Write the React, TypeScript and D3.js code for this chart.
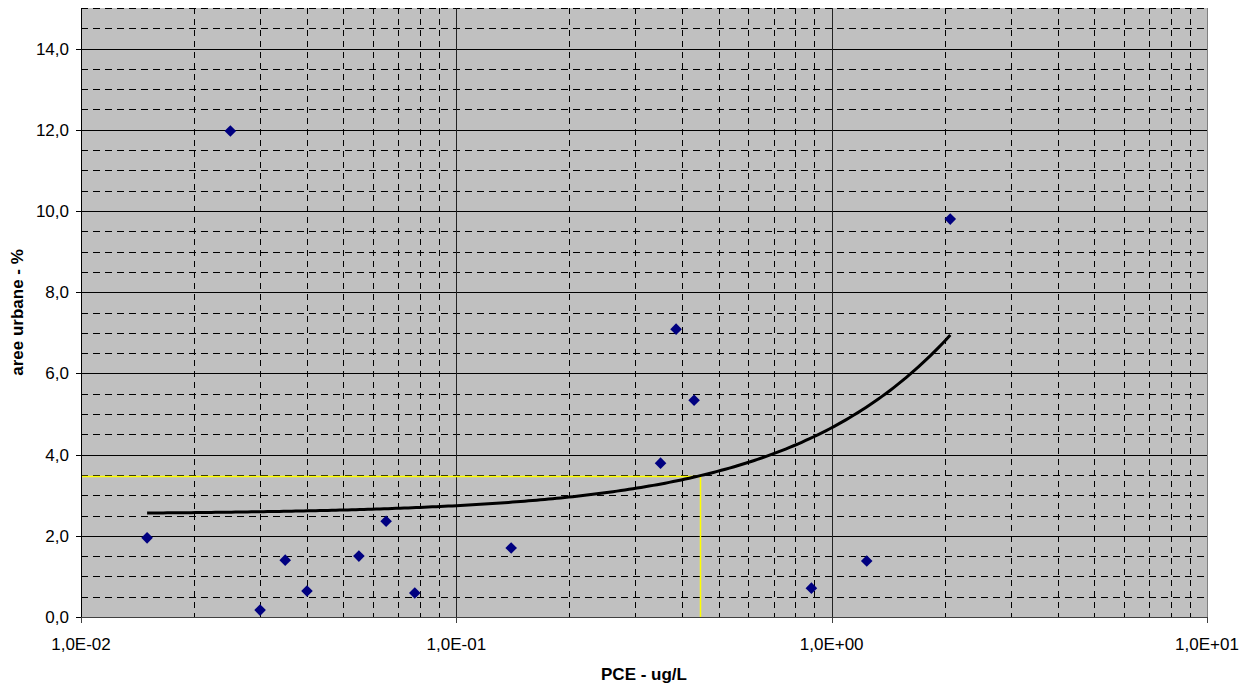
import React, { useEffect } from "react";
import * as d3 from "d3";

const pceValues = [0.015, 0.025, 0.03, 0.035, 0.04, 0.055, 0.065, 0.0775, 0.14, 0.35, 0.385, 0.43, 0.883, 1.24, 2.07];
const urbanValues = [1.95, 11.97, 0.17, 1.4, 0.64, 1.5, 2.36, 0.59, 1.7, 3.79, 7.09, 5.34, 0.71, 1.38, 9.8];
const xDecadeTicks = [0.01, 0.1, 1, 10];
const xTickLabels = ["1,0E-02", "1,0E-01", "1,0E+00", "1,0E+01"];
const yTicks = [0, 2, 4, 6, 8, 10, 12, 14];
const yTickLabels = ["0,0", "2,0", "4,0", "6,0", "8,0", "10,0", "12,0", "14,0"];
const thresholdY = [3.48];
const thresholdX = [0.445];
const xTitle = "PCE - ug/L";
const yTitle = "aree urbane - %";

const W = 1252, H = 688;
const L = 81, R = 1207, T = 8, B = 617;
const FONT = "'Liberation Sans', Arial, sans-serif";

export default function App() {
  useEffect(() => {
    document.body.style.margin = "0";
  }, []);

  const x = d3.scaleLog().domain([0.01, 10]).range([L, R]);
  const y = d3.scaleLinear().domain([0, 15]).range([B, T]);

  // Linear trendline (least squares, as in the spreadsheet)
  const n = pceValues.length;
  const mx = d3.mean(pceValues)!;
  const my = d3.mean(urbanValues)!;
  let sxy = 0, sxx = 0;
  for (let i = 0; i < n; i++) {
    sxy += (pceValues[i] - mx) * (urbanValues[i] - my);
    sxx += (pceValues[i] - mx) ** 2;
  }
  const slope = sxy / sxx;
  const intercept = my - slope * mx;
  const [xmin, xmax] = d3.extent(pceValues) as [number, number];
  const px0 = x(xmin), px1 = x(xmax);
  const trendPts: [number, number][] = d3.range(0, 201).map((i) => {
    const xv = x.invert(px0 + ((px1 - px0) * i) / 200);
    return [xv, intercept + slope * xv];
  });
  const trendLine = d3.line<[number, number]>().x((d) => x(d[0])).y((d) => y(d[1]))(trendPts)!;

  const minorX: number[] = [];
  for (const dec of [0.01, 0.1, 1]) for (let k = 2; k <= 9; k++) minorX.push(dec * k);
  const minorY = d3.range(0.5, 15.01, 0.5).filter((v) => Math.abs(v % 2) > 1e-9);

  const diamond = (cx: number, cy: number) => {
    const r = 5.8;
    return `M${cx},${cy - r}L${cx + r},${cy}L${cx},${cy + r}L${cx - r},${cy}Z`;
  };

  return (
    <svg width={W} height={H} style={{ display: "block", background: "#fff" }} fontFamily={FONT}>
      <rect x={L} y={T} width={R - L} height={B - T} fill="#C0C0C0" />
      {minorY.map((v) => (
        <line key={"my" + v} x1={L} x2={R} y1={Math.round(y(v)) + 0.5} y2={Math.round(y(v)) + 0.5}
          stroke="#000" strokeWidth={1} strokeDasharray="7,5" />
      ))}
      {minorX.map((v) => (
        <line key={"mx" + v} x1={Math.round(x(v)) + 0.5} x2={Math.round(x(v)) + 0.5} y1={T} y2={B}
          stroke="#000" strokeWidth={1} strokeDasharray="6,5" />
      ))}
      {yTicks.filter((v) => v > 0).map((v) => (
        <line key={"Y" + v} x1={L} x2={R} y1={Math.round(y(v)) + 0.5} y2={Math.round(y(v)) + 0.5}
          stroke="#000" strokeWidth={1} />
      ))}
      {xDecadeTicks.slice(1, -1).map((v) => (
        <line key={"X" + v} x1={Math.round(x(v)) + 0.5} x2={Math.round(x(v)) + 0.5} y1={T} y2={B}
          stroke="#222" strokeWidth={1} />
      ))}
      <line x1={R + 0.5} x2={R + 0.5} y1={T} y2={B} stroke="#808080" strokeWidth={1} />
      <line x1={L} x2={R} y1={B + 0.5} y2={B + 0.5} stroke="#404040" strokeWidth={1} />
      <line x1={L + 0.5} x2={L + 0.5} y1={T} y2={B + 1} stroke="#000" strokeWidth={1} />
      {yTicks.map((v, i) => (
        <g key={"yt" + v}>
          <line x1={L - 5} x2={L} y1={Math.round(y(v)) + 0.5} y2={Math.round(y(v)) + 0.5} stroke="#000" />
          <text x={69} y={y(v)} dy="0.35em" textAnchor="end" fontSize={17} fill="#000">{yTickLabels[i]}</text>
        </g>
      ))}
      {xDecadeTicks.map((v, i) => (
        <g key={"xt" + v}>
          <line x1={Math.round(x(v)) + 0.5} x2={Math.round(x(v)) + 0.5} y1={B} y2={B + 6} stroke="#404040" />
          <text x={x(v)} y={650} textAnchor="middle" fontSize={17} fill="#000">{xTickLabels[i]}</text>
        </g>
      ))}
      <path
        d={`M${L + 1},${Math.round(y(thresholdY[0])) + 0.5}H${Math.round(x(thresholdX[0])) + 0.5}V${B}`}
        fill="none" stroke="#FFFF00" strokeWidth={1.5} />
      <path d={trendLine} fill="none" stroke="#000" strokeWidth={3} />
      {pceValues.map((v, i) => (
        <path key={"p" + i} d={diamond(x(v), y(urbanValues[i]))} fill="#000080" />
      ))}
      <text x={(L + R) / 2} y={680} textAnchor="middle" fontSize={17} fontWeight="bold">{xTitle}</text>
      <text transform={`translate(23,${(T + B) / 2}) rotate(-90)`} textAnchor="middle" fontSize={17} fontWeight="bold">{yTitle}</text>
    </svg>
  );
}
